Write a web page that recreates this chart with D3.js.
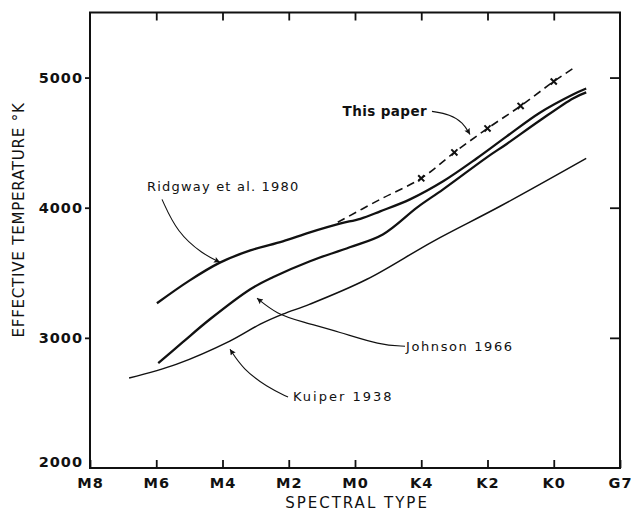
<!DOCTYPE html>
<html>
<head>
<meta charset="utf-8">
<script src="https://cdn.jsdelivr.net/npm/d3@7"></script>
<style>
  html, body { margin: 0; padding: 0; background: #fff; }
  svg { display: block; }
  text { font-family: "DejaVu Sans", sans-serif; fill: #111; }
</style>
</head>
<body>
<svg id="chart" width="631" height="511"></svg>
<script>
// ---- Data (x = position along spectral-type axis, 0 = M8 ... 8 = G7) ----
const spectralTypes = ["M8", "M6", "M4", "M2", "M0", "K4", "K2", "K0", "G7"];
const tempTicks = [2000, 3000, 4000, 5000];

const ridgwayX = [1.01, 1.5, 1.96, 2.42, 2.91, 3.32, 3.77, 4.08, 4.38, 4.83, 5.33, 5.84, 6.29, 6.79, 7.29, 7.49];
const ridgwayT = [3266, 3440, 3578, 3672, 3742, 3811, 3878, 3915, 3972, 4064, 4203, 4380, 4548, 4730, 4870, 4916];

const johnsonX = [1.03, 1.4, 1.81, 2.42, 2.76, 3.32, 3.92, 4.42, 4.94, 5.33, 5.99, 6.29, 6.79, 7.29, 7.49];
const johnsonT = [2806, 2967, 3143, 3374, 3466, 3589, 3696, 3795, 4003, 4141, 4387, 4490, 4670, 4840, 4886];

const kuiperX = [0.59, 1.31, 2.11, 2.57, 2.91, 3.32, 4.18, 5.18, 6.19, 7.49];
const kuiperT = [2691, 2798, 2975, 3105, 3182, 3259, 3450, 3742, 4011, 4379];

const thisPaperX = [3.74, 4.38, 5.0, 5.5, 6.0, 6.5, 7.0, 7.29];
const thisPaperT = [3888, 4064, 4226, 4425, 4609, 4782, 4970, 5070];

const thisPaperPointX = [5.0, 5.5, 6.0, 6.5, 7.0];
const thisPaperPointT = [4226, 4425, 4609, 4782, 4970];

// annotation labels and their pointer curves (data coordinates)
const labels = ["Ridgway et al. 1980", "This paper", "Johnson 1966", "Kuiper 1938"];
const labelX = [0.86, 5.087, 4.77, 3.064];
const labelT = [4126, 4701, 2898, 2514];
const pointerX = [
  [1.087, 1.313, 1.706, 1.962],
  [5.162, 5.434, 5.630, 5.736],
  [4.755, 4.377, 3.774, 3.17, 2.823, 2.521],
  [2.989, 2.672, 2.309, 2.113]
];
const pointerT = [
  [4064, 3811, 3642, 3581],
  [4740, 4717, 4655, 4563],
  [2936, 2944, 3044, 3128, 3182, 3305],
  [2545, 2622, 2760, 2913]
];

// ---- Chart ----
const svg = d3.select("#chart");
const x = d3.scaleLinear().domain([0, 8]).range([90, 620]);
const y = d3.scaleLinear().domain([2000, 5500]).range([468, 12.5]);

const zip = (xs, ts) => xs.map((v, i) => [v, ts[i]]);
const line = d3.line().x(d => x(d[0])).y(d => y(d[1])).curve(d3.curveCatmullRom.alpha(0.5));

// arrowhead
svg.append("defs").append("marker")
  .attr("id", "arrow").attr("viewBox", "0 0 10 10")
  .attr("refX", 10).attr("refY", 5)
  .attr("markerWidth", 11).attr("markerHeight", 6)
  .attr("markerUnits", "userSpaceOnUse")
  .attr("orient", "auto")
  .append("path").attr("d", "M0,0 L10,5 L0,10 L2,5 Z").attr("fill", "#111");

// frame
svg.append("rect")
  .attr("x", x(0)).attr("y", y(5500))
  .attr("width", x(8) - x(0)).attr("height", y(2000) - y(5500))
  .attr("fill", "none").attr("stroke", "#111").attr("stroke-width", 2);

const tickFont = g => g.selectAll("text")
  .style("font-family", "'DejaVu Sans', sans-serif")
  .style("font-size", "14.5px").style("font-weight", "bold")
  .style("letter-spacing", "1px").attr("fill", "#111");

// bottom axis
const gx = svg.append("g").attr("transform", `translate(0,${y(2000)})`)
  .call(d3.axisBottom(x).tickValues(d3.range(9)).tickFormat(i => spectralTypes[i]).tickSize(-8).tickPadding(10));
gx.select(".domain").remove();
gx.selectAll("line").attr("stroke", "#111").attr("stroke-width", 1.8);
tickFont(gx);

// top axis
const gt = svg.append("g").attr("transform", `translate(0,${y(5500)})`)
  .call(d3.axisTop(x).tickValues(d3.range(1, 8)).tickFormat("").tickSize(-8));
gt.select(".domain").remove();
gt.selectAll("line").attr("stroke", "#111").attr("stroke-width", 1.8);

// left axis
const gy = svg.append("g").attr("transform", `translate(${x(0)},0)`)
  .call(d3.axisLeft(y).tickValues(tempTicks).tickFormat(d3.format("d")).tickSize(5).tickPadding(2));
gy.select(".domain").remove();
gy.selectAll("line").attr("stroke", "#111").attr("stroke-width", 1.8);
tickFont(gy);
gy.selectAll(".tick").filter(d => d === 2000).select("text").attr("dy", "-0.1em");
gy.selectAll(".tick").filter(d => d === 2000).select("line").remove();

// right axis
const gr = svg.append("g").attr("transform", `translate(${x(8)},0)`)
  .call(d3.axisRight(y).tickValues(tempTicks.slice(1)).tickFormat("").tickSize(-10));
gr.select(".domain").remove();
gr.selectAll("line").attr("stroke", "#111").attr("stroke-width", 1.8);

// axis titles
svg.append("text")
  .attr("x", (x(0) + x(8)) / 2 + 2).attr("y", 508)
  .attr("text-anchor", "middle")
  .style("font-size", "15px").style("letter-spacing", "2px")
  .text("SPECTRAL TYPE");

svg.append("text")
  .attr("transform", `translate(24,220) rotate(-90)`)
  .attr("text-anchor", "middle")
  .style("font-size", "15px").style("letter-spacing", "0.8px")
  .text("EFFECTIVE TEMPERATURE °K");

// curves
svg.append("path").datum(zip(kuiperX, kuiperT))
  .attr("d", line).attr("fill", "none").attr("stroke", "#111").attr("stroke-width", 1.5);
svg.append("path").datum(zip(johnsonX, johnsonT))
  .attr("d", line).attr("fill", "none").attr("stroke", "#111").attr("stroke-width", 2.3);
svg.append("path").datum(zip(ridgwayX, ridgwayT))
  .attr("d", line).attr("fill", "none").attr("stroke", "#111").attr("stroke-width", 2.3);
svg.append("path").datum(zip(thisPaperX, thisPaperT))
  .attr("d", line).attr("fill", "none").attr("stroke", "#111")
  .attr("stroke-width", 1.6).attr("stroke-dasharray", "8,5");

// x markers
const cross = d3.symbol().type(d3.symbolX).size(26);
svg.selectAll(".pt").data(zip(thisPaperPointX, thisPaperPointT)).join("path")
  .attr("class", "pt")
  .attr("transform", d => `translate(${x(d[0])},${y(d[1])})`)
  .attr("d", cross).attr("fill", "#111").attr("stroke", "#111").attr("stroke-width", 2);

// annotations
const pline = d3.line().x(d => x(d[0])).y(d => y(d[1])).curve(d3.curveBasis);
pointerX.forEach((px, i) => {
  svg.append("path").datum(zip(px, pointerT[i]))
    .attr("d", pline).attr("fill", "none").attr("stroke", "#111").attr("stroke-width", 1.1)
    .attr("marker-end", "url(#arrow)");
});
const labelAnchor = ["start", "end", "start", "start"];
const labelSize = ["13px", "13.5px", "13px", "13px"];
const labelSpacing = ["1.2px", "0.4px", "1.6px", "2px"];
const labelWeight = ["normal", "bold", "normal", "normal"];
labels.forEach((t, i) => {
  svg.append("text")
    .attr("x", x(labelX[i])).attr("y", y(labelT[i]))
    .attr("text-anchor", labelAnchor[i])
    .style("font-size", labelSize[i]).style("letter-spacing", labelSpacing[i])
    .style("font-weight", labelWeight[i])
    .text(t);
});
</script>
</body>
</html>
